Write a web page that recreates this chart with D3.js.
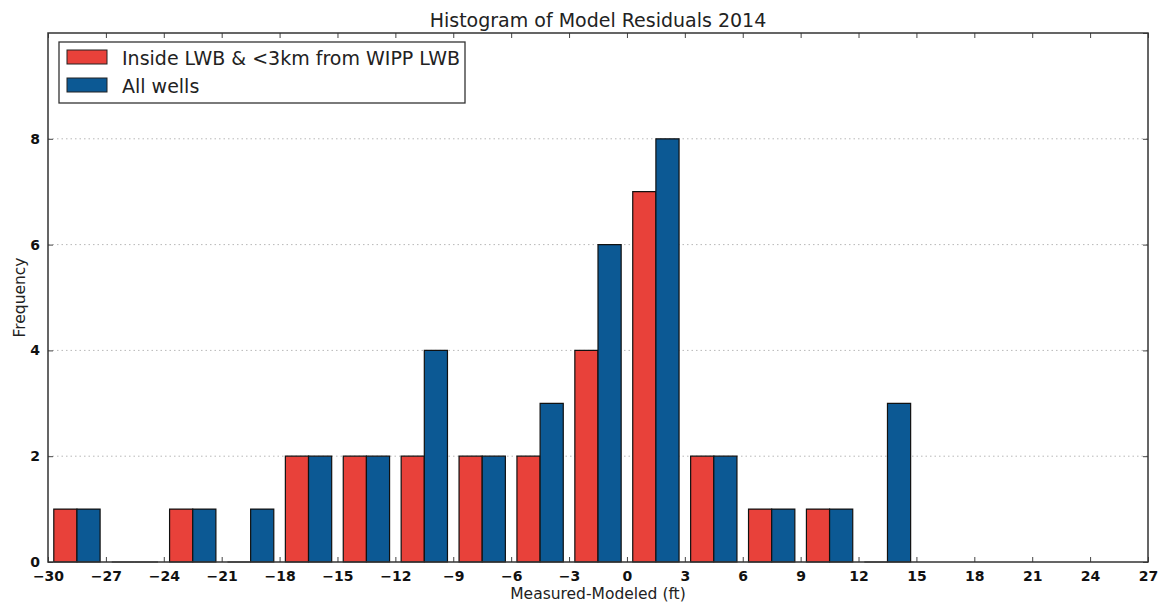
<!DOCTYPE html>
<html>
<head>
<meta charset="utf-8">
<script src="https://cdn.jsdelivr.net/npm/d3@7"></script>
<style>
  html, body { margin: 0; padding: 0; background: #fff; }
  svg { display: block; font-family: "DejaVu Sans", sans-serif; }
</style>
</head>
<body>
<svg id="chart" width="1161" height="606"></svg>
<script>
// Residual histogram: 3 ft bins from -30 to 15
const binStarts = [-30, -27, -24, -21, -18, -15, -12, -9, -6, -3, 0, 3, 6, 9, 12];
const binWidth = 3;
const insideCounts = [1, 0, 1, 0, 2, 2, 2, 2, 2, 4, 7, 2, 1, 1, 0];
const allCounts    = [1, 0, 1, 1, 2, 2, 4, 2, 3, 6, 8, 2, 1, 1, 3];
const seriesNames = ["Inside LWB & <3km from WIPP LWB", "All wells"];
const seriesColors = ["#e8413a", "#0c5994"];
const xTicks = d3.range(-30, 28, 3);
const yTicks = [0, 2, 4, 6, 8];

const svg = d3.select("#chart");
const margin = { left: 48, right: 13, top: 33, bottom: 44 };
const W = 1161, H = 606;
const x = d3.scaleLinear().domain([-30, 27]).range([margin.left, W - margin.right]);
const y = d3.scaleLinear().domain([0, 10]).range([H - margin.bottom, margin.top]);

const plotL = x.range()[0], plotR = x.range()[1];
const plotT = y.range()[1], plotB = y.range()[0];

// horizontal grid
svg.append("g").selectAll("line").data(yTicks.filter(d => d > 0)).join("line")
  .attr("x1", plotL).attr("x2", plotR)
  .attr("y1", d => y(d)).attr("y2", d => y(d))
  .attr("stroke", "#b8b8b8").attr("stroke-width", 1)
  .attr("stroke-dasharray", "1.5,3");

// bars: two series side by side, occupying 80% of each bin;
// drawn as paths so empty bins still show their outline on the baseline
const rwidth = 0.8;
const series = [insideCounts, allCounts];
const barsG = svg.append("g");
series.forEach((vals, si) => {
  barsG.append("g").selectAll("path").data(vals.map((v, i) => ({ v, s: binStarts[i] }))).join("path")
    .attr("d", d => {
      const x0 = x(d.s + binWidth * (1 - rwidth) / 2 + si * binWidth * rwidth / 2);
      const x1 = x0 + (x(d.s + binWidth * rwidth / 2) - x(d.s));
      const y0 = y(0), y1 = y(d.v);
      return `M${x0},${y0}H${x1}V${y1}H${x0}Z`;
    })
    .attr("fill", seriesColors[si])
    .attr("stroke", "#111")
    .attr("stroke-width", 1.2);
});

// axes with inward ticks on all four sides
const tickLen = 5;
const bottomAxis = d3.axisBottom(x).tickValues(xTicks).tickSize(-tickLen).tickPadding(9)
  .tickFormat(d => d < 0 ? "\u2212" + Math.abs(d) : String(d));
const gx = svg.append("g").attr("transform", `translate(0,${plotB})`).call(bottomAxis);
gx.select(".domain").remove();
gx.selectAll("text").attr("font-size", 14).attr("font-weight", "bold").attr("fill", "#111")
  .attr("font-family", "DejaVu Sans");

const gxTop = svg.append("g").attr("transform", `translate(0,${plotT})`)
  .call(d3.axisTop(x).tickValues(xTicks).tickSize(-tickLen).tickFormat(""));
gxTop.select(".domain").remove();

const leftAxis = d3.axisLeft(y).tickValues(yTicks).tickSize(-tickLen).tickPadding(8).tickFormat(d3.format("d"));
const gy = svg.append("g").attr("transform", `translate(${plotL},0)`).call(leftAxis);
gy.select(".domain").remove();
gy.selectAll("text").attr("font-size", 14).attr("font-weight", "bold").attr("fill", "#111")
  .attr("font-family", "DejaVu Sans");

const gyR = svg.append("g").attr("transform", `translate(${plotR},0)`)
  .call(d3.axisRight(y).tickValues(yTicks.concat([10])).tickSize(-tickLen).tickFormat(""));
gyR.select(".domain").remove();
[gx, gxTop, gy, gyR].forEach(g => g.selectAll("line").attr("stroke", "#444"));

// frame
svg.append("rect").attr("x", plotL).attr("y", plotT)
  .attr("width", plotR - plotL).attr("height", plotB - plotT)
  .attr("fill", "none").attr("stroke", "#333").attr("stroke-width", 1.5);

// title and axis labels
svg.append("text").attr("x", (plotL + plotR) / 2).attr("y", 27)
  .attr("text-anchor", "middle").attr("font-size", 19).attr("fill", "#222")
  .text("Histogram of Model Residuals 2014");
svg.append("text").attr("x", (plotL + plotR) / 2).attr("y", 599)
  .attr("text-anchor", "middle").attr("font-size", 15.5).attr("fill", "#222")
  .text("Measured-Modeled (ft)");
svg.append("text").attr("transform", `translate(25,${(plotT + plotB) / 2}) rotate(-90)`)
  .attr("text-anchor", "middle").attr("font-size", 15.5).attr("fill", "#222")
  .text("Frequency");

// legend
const lg = svg.append("g");
lg.append("rect").attr("x", 59).attr("y", 42).attr("width", 406).attr("height", 61)
  .attr("fill", "#fff").attr("stroke", "#333").attr("stroke-width", 1.3);
seriesNames.forEach((name, i) => {
  const yy = 50 + i * 28;
  lg.append("rect").attr("x", 67).attr("y", yy).attr("width", 40).attr("height", 14)
    .attr("fill", seriesColors[i]).attr("stroke", "#222").attr("stroke-width", 1);
  lg.append("text").attr("x", 122).attr("y", yy + 15).attr("font-size", 19).attr("fill", "#222")
    .text(name);
});
</script>
</body>
</html>
